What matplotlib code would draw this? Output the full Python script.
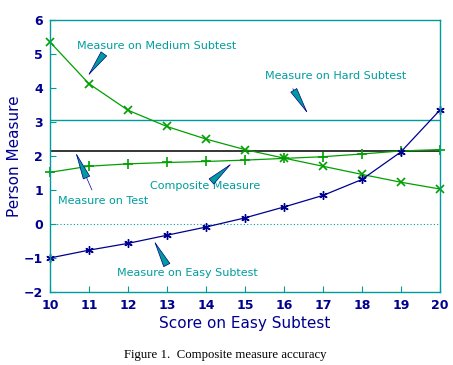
import matplotlib
matplotlib.use('Agg')
import matplotlib.pyplot as plt

# data
scores = [10, 11, 12, 13, 14, 15, 16, 17, 18, 19, 20]
medium = [5.36, 4.13, 3.35, 2.87, 2.50, 2.19, 1.94, 1.70, 1.46, 1.23, 1.03]
composite = [1.52, 1.70, 1.77, 1.81, 1.84, 1.88, 1.93, 1.98, 2.06, 2.15, 2.19]
easy = [-1.0, -0.77, -0.57, -0.33, -0.09, 0.18, 0.50, 0.84, 1.31, 2.12, 3.35]
test_measure = 2.16
hard_measure = 3.07

GREEN = '#00a000'
NAVY = '#000090'
TEAL = '#009c9c'

fig = plt.figure(figsize=(4.53, 3.65), dpi=100)
ax = fig.add_axes([0.110, 0.200, 0.861, 0.745])

ax.axhline(0, color=TEAL, lw=0.8, ls=(0, (1, 2)))
ax.axhline(hard_measure, color=TEAL, lw=1.0)
ax.axhline(test_measure, color='black', lw=1.1)

ax.plot(scores, medium, color=GREEN, lw=0.9, marker='x', ms=6, mew=1.2, clip_on=False)
ax.plot(scores, composite, color=GREEN, lw=0.9, marker='+', ms=7, mew=1.2, clip_on=False)
ax.plot(scores, easy, color=NAVY, lw=0.9, marker=(6, 2, 0), ms=6, mew=1.0, clip_on=False)

# labels with arrows: navy stem, teal head
notes = [
    ("Measure on Medium Subtest", (10.69, 5.24), (10.97, 4.35), (11.37, 4.98)),
    ("Measure on Hard Subtest", (15.51, 4.35), (16.62, 3.24), (16.23, 3.98)),
    ("Measure on Test", (10.20, 0.68), (10.66, 2.11), (11.08, 1.00)),
    ("Composite Measure", (12.56, 1.13), (14.67, 1.79), (14.18, 1.29)),
    ("Measure on Easy Subtest", (11.72, -1.43), (12.67, -0.49), (12.95, -1.10)),
]
for txt, pos, tip, tail in notes:
    ax.text(pos[0], pos[1], txt, color=TEAL, fontsize=8, va='center', ha='left')
    ax.annotate('', xy=tip, xytext=tail,
                arrowprops=dict(arrowstyle='-|>,head_length=1.8,head_width=0.25',
                                mutation_scale=10, fc=TEAL, ec=NAVY, lw=0.5,
                                shrinkA=0, shrinkB=0))

ax.set_xlim(10, 20)
ax.set_ylim(-2, 6)
ax.set_xticks(range(10, 21))
ax.set_yticks(range(-2, 7))
for s in ax.spines.values():
    s.set_color(TEAL)
    s.set_linewidth(1.0)
ax.tick_params(direction='in', length=4, color=TEAL, labelcolor=NAVY, labelsize=9, pad=5)
for lab in ax.get_xticklabels() + ax.get_yticklabels():
    lab.set_fontweight('bold')

ax.set_xlabel('Score on Easy Subtest', color=NAVY, fontsize=11, labelpad=3)
ax.set_ylabel('Person Measure', color=NAVY, fontsize=11, labelpad=1)

fig.text(0.498, 0.027, 'Figure 1.  Composite measure accuracy', ha='center', va='center',
         fontsize=9.2, family='Liberation Serif', color='black')

fig.savefig('out.png', dpi=100)
